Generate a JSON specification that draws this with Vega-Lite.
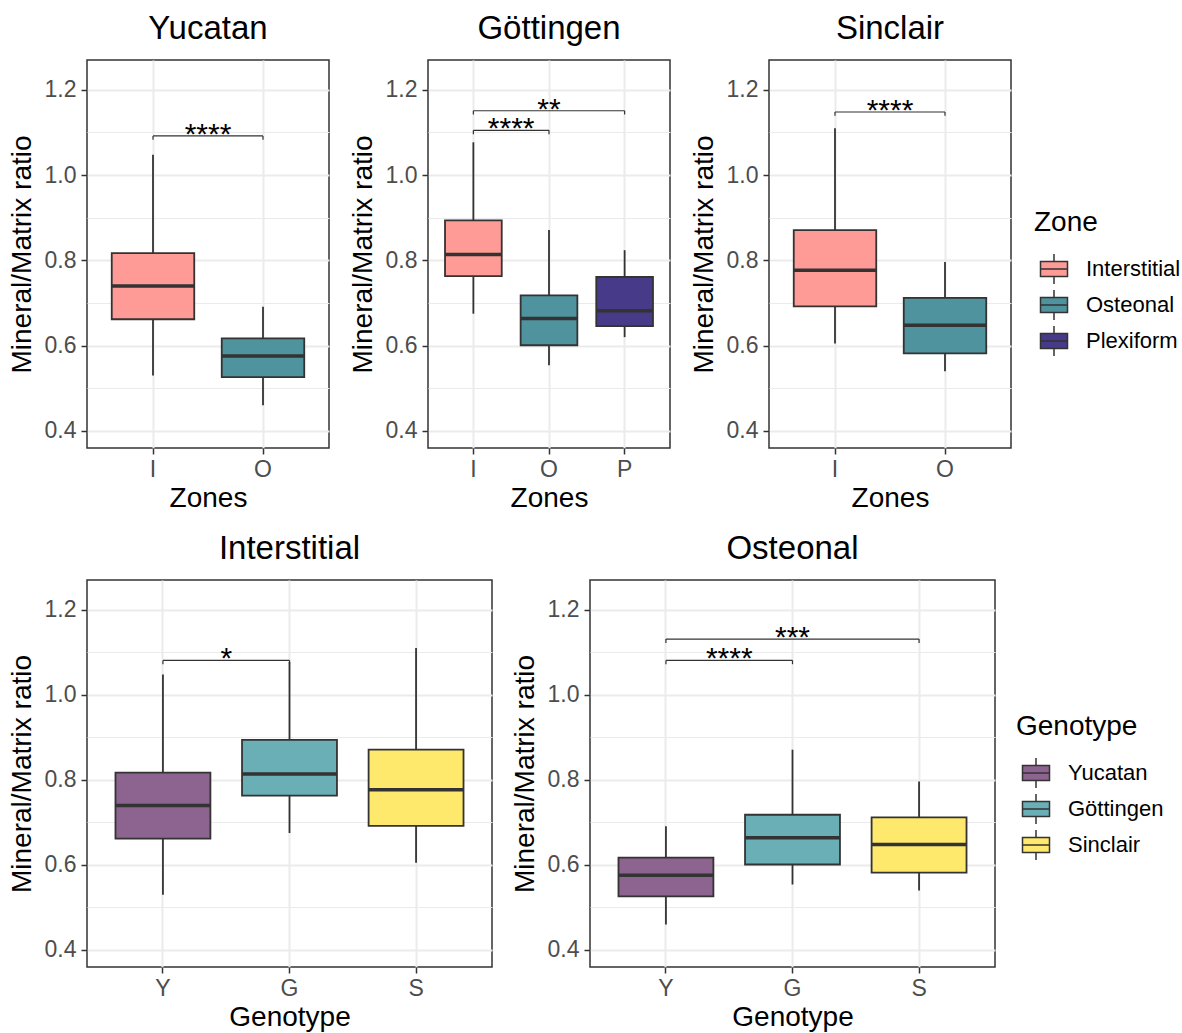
{
"$schema": "https://vega.github.io/schema/vega-lite/v6.json",
"background": "white",
"padding": {"left": 7, "top": 12, "right": 0, "bottom": 0},
"datasets": {
"boxes": [
{"breed":"Yucatan","b":"Y","zone":"Interstitial","z":"I","lower":0.530,"q1":0.662,"median":0.740,"q3":0.817,"upper":1.048},
{"breed":"Yucatan","b":"Y","zone":"Osteonal","z":"O","lower":0.460,"q1":0.526,"median":0.576,"q3":0.617,"upper":0.691},
{"breed":"Göttingen","b":"G","zone":"Interstitial","z":"I","lower":0.675,"q1":0.763,"median":0.814,"q3":0.894,"upper":1.077},
{"breed":"Göttingen","b":"G","zone":"Osteonal","z":"O","lower":0.554,"q1":0.601,"median":0.664,"q3":0.718,"upper":0.871},
{"breed":"Göttingen","b":"G","zone":"Plexiform","z":"P","lower":0.620,"q1":0.646,"median":0.682,"q3":0.761,"upper":0.824},
{"breed":"Sinclair","b":"S","zone":"Interstitial","z":"I","lower":0.605,"q1":0.692,"median":0.777,"q3":0.871,"upper":1.110},
{"breed":"Sinclair","b":"S","zone":"Osteonal","z":"O","lower":0.540,"q1":0.582,"median":0.648,"q3":0.712,"upper":0.796}
],
"brackets": [
{"panel":"Yucatan","from":"I","to":"O","mid":"","y":1.092,"tip":1.083,"label":"****"},
{"panel":"Göttingen","from":"I","to":"O","mid":"","y":1.105,"tip":1.096,"label":"****"},
{"panel":"Göttingen","from":"I","to":"P","mid":"O","y":1.151,"tip":1.142,"label":"**"},
{"panel":"Sinclair","from":"I","to":"O","mid":"","y":1.148,"tip":1.139,"label":"****"},
{"panel":"Interstitial","from":"Y","to":"G","mid":"","y":1.081,"tip":1.072,"label":"*"},
{"panel":"Osteonal","from":"Y","to":"G","mid":"","y":1.081,"tip":1.072,"label":"****"},
{"panel":"Osteonal","from":"Y","to":"S","mid":"G","y":1.131,"tip":1.122,"label":"***"}
]
},
"vconcat": [
{
"hconcat": [
{
"title": "Yucatan",
"width": 242, "height": 388,
"resolve": {"axis": {"y": "independent"}},
"layer": [
{
"data": {"name": "boxes"},
"transform": [{"filter": "datum.breed === 'Yucatan'"}],
"mark": {"type": "rule", "color": "#333333", "strokeWidth": 1.8},
"encoding": {
"x": {"field": "z", "type": "nominal", "title": "Zones", "scale": {"type": "band", "domain": ["I","O"], "paddingInner": 0.25, "paddingOuter": 0.225}, "axis": {"labelAngle": 0, "grid": true, "bandPosition": 0.5}},
"y": {"field": "lower", "type": "quantitative", "title": null, "scale": {"domain": [0.36, 1.27], "nice": false, "zero": false}, "axis": {"orient": "right", "values": [0.5,0.7,0.9,1.1], "grid": true, "gridWidth": 1, "labels": false, "ticks": false, "domain": false, "title": null}},
"y2": {"field": "upper", "title": null}
}
},
{
"layer": [
{
"data": {"name": "boxes"},
"transform": [{"filter": "datum.breed === 'Yucatan'"}],
"layer": [
{"mark": {"type": "bar", "stroke": "#333333", "strokeWidth": 1.8},
"encoding": {
"x": {"field": "z", "type": "nominal", "title": "Zones", "scale": {"type": "band", "domain": ["I","O"], "paddingInner": 0.25, "paddingOuter": 0.225}, "axis": {"labelAngle": 0, "grid": true, "bandPosition": 0.5}},
"y": {"field": "q1", "type": "quantitative", "title": "Mineral/Matrix ratio", "scale": {"domain": [0.36, 1.27], "nice": false, "zero": false}, "axis": {"orient": "left", "values": [0.4,0.6,0.8,1,1.2], "format": ".1f", "grid": true}},
"y2": {"field": "q3", "title": "Mineral/Matrix ratio"},
"fill": {"field": "zone", "type": "nominal", "title": "Zone", "scale": {"domain": ["Interstitial","Osteonal","Plexiform"], "range": ["#FF9B96","#4E939D","#473B89"]}, "legend": {"orient": "none", "legendX": 947, "legendY": 149}}
}},
{"mark": {"type": "bar", "fillOpacity": 0, "stroke": "#333333", "strokeWidth": 3.5},
"encoding": {
"x": {"field": "z", "type": "nominal", "title": "Zones", "scale": {"type": "band", "domain": ["I","O"], "paddingInner": 0.25, "paddingOuter": 0.225}, "axis": {"labelAngle": 0, "grid": true, "bandPosition": 0.5}},
"y": {"field": "median", "type": "quantitative", "title": "Mineral/Matrix ratio", "scale": {"domain": [0.36, 1.27], "nice": false, "zero": false}, "axis": {"orient": "left", "values": [0.4,0.6,0.8,1,1.2], "format": ".1f", "grid": true}},
"y2": {"field": "median", "title": "Mineral/Matrix ratio"}
}}
]
},
{
"data": {"name": "brackets"},
"transform": [{"filter": "datum.panel === 'Yucatan'"}],
"layer": [
{"mark": {"type": "rule", "color": "#333333", "strokeWidth": 1.2},
"encoding": {
"x": {"field": "from", "type": "nominal", "title": "Zones", "scale": {"type": "band", "domain": ["I","O"], "paddingInner": 0.25, "paddingOuter": 0.225}, "axis": {"labelAngle": 0, "grid": true, "bandPosition": 0.5}},
"x2": {"field": "to", "title": "Zones"},
"y": {"field": "y", "type": "quantitative", "title": "Mineral/Matrix ratio", "scale": {"domain": [0.36, 1.27], "nice": false, "zero": false}, "axis": {"orient": "left", "values": [0.4,0.6,0.8,1,1.2], "format": ".1f", "grid": true}}
}},
{"mark": {"type": "rule", "color": "#333333", "strokeWidth": 1.2},
"encoding": {
"x": {"field": "from", "type": "nominal", "title": "Zones", "scale": {"type": "band", "domain": ["I","O"], "paddingInner": 0.25, "paddingOuter": 0.225}, "axis": {"labelAngle": 0, "grid": true, "bandPosition": 0.5}},
"y": {"field": "y", "type": "quantitative", "title": "Mineral/Matrix ratio", "scale": {"domain": [0.36, 1.27], "nice": false, "zero": false}, "axis": {"orient": "left", "values": [0.4,0.6,0.8,1,1.2], "format": ".1f", "grid": true}},
"y2": {"field": "tip", "title": "Mineral/Matrix ratio"}
}},
{"mark": {"type": "rule", "color": "#333333", "strokeWidth": 1.2},
"encoding": {
"x": {"field": "to", "type": "nominal", "title": "Zones", "scale": {"type": "band", "domain": ["I","O"], "paddingInner": 0.25, "paddingOuter": 0.225}, "axis": {"labelAngle": 0, "grid": true, "bandPosition": 0.5}},
"y": {"field": "y", "type": "quantitative", "title": "Mineral/Matrix ratio", "scale": {"domain": [0.36, 1.27], "nice": false, "zero": false}, "axis": {"orient": "left", "values": [0.4,0.6,0.8,1,1.2], "format": ".1f", "grid": true}},
"y2": {"field": "tip", "title": "Mineral/Matrix ratio"}
}},
{"mark": {"type": "text", "fontSize": 30, "baseline": "alphabetic", "dx": 55, "dy": 8, "color": "black"},
"encoding": {
"x": {"field": "from", "type": "nominal", "title": "Zones", "scale": {"type": "band", "domain": ["I","O"], "paddingInner": 0.25, "paddingOuter": 0.225}, "axis": {"labelAngle": 0, "grid": true, "bandPosition": 0.5}},
"y": {"field": "y", "type": "quantitative", "title": "Mineral/Matrix ratio", "scale": {"domain": [0.36, 1.27], "nice": false, "zero": false}, "axis": {"orient": "left", "values": [0.4,0.6,0.8,1,1.2], "format": ".1f", "grid": true}},
"text": {"field": "label"}
}}
]
}
]
}
]
},
{
"title": "Göttingen",
"width": 242, "height": 388,
"resolve": {"axis": {"y": "independent"}},
"layer": [
{
"data": {"name": "boxes"},
"transform": [{"filter": "datum.breed === 'Göttingen'"}],
"mark": {"type": "rule", "color": "#333333", "strokeWidth": 1.8},
"encoding": {
"x": {"field": "z", "type": "nominal", "title": "Zones", "scale": {"type": "band", "domain": ["I","O","P"], "paddingInner": 0.25, "paddingOuter": 0.225}, "axis": {"labelAngle": 0, "grid": true, "bandPosition": 0.5}},
"y": {"field": "lower", "type": "quantitative", "title": null, "scale": {"domain": [0.36, 1.27], "nice": false, "zero": false}, "axis": {"orient": "right", "values": [0.5,0.7,0.9,1.1], "grid": true, "gridWidth": 1, "labels": false, "ticks": false, "domain": false, "title": null}},
"y2": {"field": "upper", "title": null}
}
},
{
"layer": [
{
"data": {"name": "boxes"},
"transform": [{"filter": "datum.breed === 'Göttingen'"}],
"layer": [
{"mark": {"type": "bar", "stroke": "#333333", "strokeWidth": 1.8},
"encoding": {
"x": {"field": "z", "type": "nominal", "title": "Zones", "scale": {"type": "band", "domain": ["I","O","P"], "paddingInner": 0.25, "paddingOuter": 0.225}, "axis": {"labelAngle": 0, "grid": true, "bandPosition": 0.5}},
"y": {"field": "q1", "type": "quantitative", "title": "Mineral/Matrix ratio", "scale": {"domain": [0.36, 1.27], "nice": false, "zero": false}, "axis": {"orient": "left", "values": [0.4,0.6,0.8,1,1.2], "format": ".1f", "grid": true}},
"y2": {"field": "q3", "title": "Mineral/Matrix ratio"},
"fill": {"field": "zone", "type": "nominal", "title": "Zone", "scale": {"domain": ["Interstitial","Osteonal","Plexiform"], "range": ["#FF9B96","#4E939D","#473B89"]}, "legend": {"orient": "none", "legendX": 947, "legendY": 149}}
}},
{"mark": {"type": "bar", "fillOpacity": 0, "stroke": "#333333", "strokeWidth": 3.5},
"encoding": {
"x": {"field": "z", "type": "nominal", "title": "Zones", "scale": {"type": "band", "domain": ["I","O","P"], "paddingInner": 0.25, "paddingOuter": 0.225}, "axis": {"labelAngle": 0, "grid": true, "bandPosition": 0.5}},
"y": {"field": "median", "type": "quantitative", "title": "Mineral/Matrix ratio", "scale": {"domain": [0.36, 1.27], "nice": false, "zero": false}, "axis": {"orient": "left", "values": [0.4,0.6,0.8,1,1.2], "format": ".1f", "grid": true}},
"y2": {"field": "median", "title": "Mineral/Matrix ratio"}
}}
]
},
{
"data": {"name": "brackets"},
"transform": [{"filter": "datum.panel === 'Göttingen'"}],
"layer": [
{"mark": {"type": "rule", "color": "#333333", "strokeWidth": 1.2},
"encoding": {
"x": {"field": "from", "type": "nominal", "title": "Zones", "scale": {"type": "band", "domain": ["I","O","P"], "paddingInner": 0.25, "paddingOuter": 0.225}, "axis": {"labelAngle": 0, "grid": true, "bandPosition": 0.5}},
"x2": {"field": "to", "title": "Zones"},
"y": {"field": "y", "type": "quantitative", "title": "Mineral/Matrix ratio", "scale": {"domain": [0.36, 1.27], "nice": false, "zero": false}, "axis": {"orient": "left", "values": [0.4,0.6,0.8,1,1.2], "format": ".1f", "grid": true}}
}},
{"mark": {"type": "rule", "color": "#333333", "strokeWidth": 1.2},
"encoding": {
"x": {"field": "from", "type": "nominal", "title": "Zones", "scale": {"type": "band", "domain": ["I","O","P"], "paddingInner": 0.25, "paddingOuter": 0.225}, "axis": {"labelAngle": 0, "grid": true, "bandPosition": 0.5}},
"y": {"field": "y", "type": "quantitative", "title": "Mineral/Matrix ratio", "scale": {"domain": [0.36, 1.27], "nice": false, "zero": false}, "axis": {"orient": "left", "values": [0.4,0.6,0.8,1,1.2], "format": ".1f", "grid": true}},
"y2": {"field": "tip", "title": "Mineral/Matrix ratio"}
}},
{"mark": {"type": "rule", "color": "#333333", "strokeWidth": 1.2},
"encoding": {
"x": {"field": "to", "type": "nominal", "title": "Zones", "scale": {"type": "band", "domain": ["I","O","P"], "paddingInner": 0.25, "paddingOuter": 0.225}, "axis": {"labelAngle": 0, "grid": true, "bandPosition": 0.5}},
"y": {"field": "y", "type": "quantitative", "title": "Mineral/Matrix ratio", "scale": {"domain": [0.36, 1.27], "nice": false, "zero": false}, "axis": {"orient": "left", "values": [0.4,0.6,0.8,1,1.2], "format": ".1f", "grid": true}},
"y2": {"field": "tip", "title": "Mineral/Matrix ratio"}
}},
{"transform": [{"filter": "datum.to === 'O'"}],
"mark": {"type": "text", "fontSize": 30, "baseline": "alphabetic", "dx": 37.8, "dy": 8, "color": "black"},
"encoding": {
"x": {"field": "from", "type": "nominal", "title": "Zones", "scale": {"type": "band", "domain": ["I","O","P"], "paddingInner": 0.25, "paddingOuter": 0.225}, "axis": {"labelAngle": 0, "grid": true, "bandPosition": 0.5}},
"y": {"field": "y", "type": "quantitative", "title": "Mineral/Matrix ratio", "scale": {"domain": [0.36, 1.27], "nice": false, "zero": false}, "axis": {"orient": "left", "values": [0.4,0.6,0.8,1,1.2], "format": ".1f", "grid": true}},
"text": {"field": "label"}
}},
{"transform": [{"filter": "datum.to === 'P'"}],
"mark": {"type": "text", "fontSize": 30, "baseline": "alphabetic", "dy": 8, "color": "black"},
"encoding": {
"x": {"field": "mid", "type": "nominal", "title": "Zones", "scale": {"type": "band", "domain": ["I","O","P"], "paddingInner": 0.25, "paddingOuter": 0.225}, "axis": {"labelAngle": 0, "grid": true, "bandPosition": 0.5}},
"y": {"field": "y", "type": "quantitative", "title": "Mineral/Matrix ratio", "scale": {"domain": [0.36, 1.27], "nice": false, "zero": false}, "axis": {"orient": "left", "values": [0.4,0.6,0.8,1,1.2], "format": ".1f", "grid": true}},
"text": {"field": "label"}
}}
]
}
]
}
]
},
{
"title": "Sinclair",
"width": 242, "height": 388,
"resolve": {"axis": {"y": "independent"}},
"layer": [
{
"data": {"name": "boxes"},
"transform": [{"filter": "datum.breed === 'Sinclair'"}],
"mark": {"type": "rule", "color": "#333333", "strokeWidth": 1.8},
"encoding": {
"x": {"field": "z", "type": "nominal", "title": "Zones", "scale": {"type": "band", "domain": ["I","O"], "paddingInner": 0.25, "paddingOuter": 0.225}, "axis": {"labelAngle": 0, "grid": true, "bandPosition": 0.5}},
"y": {"field": "lower", "type": "quantitative", "title": null, "scale": {"domain": [0.36, 1.27], "nice": false, "zero": false}, "axis": {"orient": "right", "values": [0.5,0.7,0.9,1.1], "grid": true, "gridWidth": 1, "labels": false, "ticks": false, "domain": false, "title": null}},
"y2": {"field": "upper", "title": null}
}
},
{
"layer": [
{
"data": {"name": "boxes"},
"transform": [{"filter": "datum.breed === 'Sinclair'"}],
"layer": [
{"mark": {"type": "bar", "stroke": "#333333", "strokeWidth": 1.8},
"encoding": {
"x": {"field": "z", "type": "nominal", "title": "Zones", "scale": {"type": "band", "domain": ["I","O"], "paddingInner": 0.25, "paddingOuter": 0.225}, "axis": {"labelAngle": 0, "grid": true, "bandPosition": 0.5}},
"y": {"field": "q1", "type": "quantitative", "title": "Mineral/Matrix ratio", "scale": {"domain": [0.36, 1.27], "nice": false, "zero": false}, "axis": {"orient": "left", "values": [0.4,0.6,0.8,1,1.2], "format": ".1f", "grid": true}},
"y2": {"field": "q3", "title": "Mineral/Matrix ratio"},
"fill": {"field": "zone", "type": "nominal", "title": "Zone", "scale": {"domain": ["Interstitial","Osteonal","Plexiform"], "range": ["#FF9B96","#4E939D","#473B89"]}, "legend": {"orient": "none", "legendX": 947, "legendY": 149}}
}},
{"mark": {"type": "bar", "fillOpacity": 0, "stroke": "#333333", "strokeWidth": 3.5},
"encoding": {
"x": {"field": "z", "type": "nominal", "title": "Zones", "scale": {"type": "band", "domain": ["I","O"], "paddingInner": 0.25, "paddingOuter": 0.225}, "axis": {"labelAngle": 0, "grid": true, "bandPosition": 0.5}},
"y": {"field": "median", "type": "quantitative", "title": "Mineral/Matrix ratio", "scale": {"domain": [0.36, 1.27], "nice": false, "zero": false}, "axis": {"orient": "left", "values": [0.4,0.6,0.8,1,1.2], "format": ".1f", "grid": true}},
"y2": {"field": "median", "title": "Mineral/Matrix ratio"}
}}
]
},
{
"data": {"name": "brackets"},
"transform": [{"filter": "datum.panel === 'Sinclair'"}],
"layer": [
{"mark": {"type": "rule", "color": "#333333", "strokeWidth": 1.2},
"encoding": {
"x": {"field": "from", "type": "nominal", "title": "Zones", "scale": {"type": "band", "domain": ["I","O"], "paddingInner": 0.25, "paddingOuter": 0.225}, "axis": {"labelAngle": 0, "grid": true, "bandPosition": 0.5}},
"x2": {"field": "to", "title": "Zones"},
"y": {"field": "y", "type": "quantitative", "title": "Mineral/Matrix ratio", "scale": {"domain": [0.36, 1.27], "nice": false, "zero": false}, "axis": {"orient": "left", "values": [0.4,0.6,0.8,1,1.2], "format": ".1f", "grid": true}}
}},
{"mark": {"type": "rule", "color": "#333333", "strokeWidth": 1.2},
"encoding": {
"x": {"field": "from", "type": "nominal", "title": "Zones", "scale": {"type": "band", "domain": ["I","O"], "paddingInner": 0.25, "paddingOuter": 0.225}, "axis": {"labelAngle": 0, "grid": true, "bandPosition": 0.5}},
"y": {"field": "y", "type": "quantitative", "title": "Mineral/Matrix ratio", "scale": {"domain": [0.36, 1.27], "nice": false, "zero": false}, "axis": {"orient": "left", "values": [0.4,0.6,0.8,1,1.2], "format": ".1f", "grid": true}},
"y2": {"field": "tip", "title": "Mineral/Matrix ratio"}
}},
{"mark": {"type": "rule", "color": "#333333", "strokeWidth": 1.2},
"encoding": {
"x": {"field": "to", "type": "nominal", "title": "Zones", "scale": {"type": "band", "domain": ["I","O"], "paddingInner": 0.25, "paddingOuter": 0.225}, "axis": {"labelAngle": 0, "grid": true, "bandPosition": 0.5}},
"y": {"field": "y", "type": "quantitative", "title": "Mineral/Matrix ratio", "scale": {"domain": [0.36, 1.27], "nice": false, "zero": false}, "axis": {"orient": "left", "values": [0.4,0.6,0.8,1,1.2], "format": ".1f", "grid": true}},
"y2": {"field": "tip", "title": "Mineral/Matrix ratio"}
}},
{"mark": {"type": "text", "fontSize": 30, "baseline": "alphabetic", "dx": 55, "dy": 8, "color": "black"},
"encoding": {
"x": {"field": "from", "type": "nominal", "title": "Zones", "scale": {"type": "band", "domain": ["I","O"], "paddingInner": 0.25, "paddingOuter": 0.225}, "axis": {"labelAngle": 0, "grid": true, "bandPosition": 0.5}},
"y": {"field": "y", "type": "quantitative", "title": "Mineral/Matrix ratio", "scale": {"domain": [0.36, 1.27], "nice": false, "zero": false}, "axis": {"orient": "left", "values": [0.4,0.6,0.8,1,1.2], "format": ".1f", "grid": true}},
"text": {"field": "label"}
}}
]
}
]
}
]
}
],
"spacing": 99,
"bounds": "flush",
"resolve": {"scale": {"x": "independent", "y": "independent", "fill": "shared"}, "legend": {"fill": "shared"}}
},
{
"hconcat": [
{
"title": "Interstitial",
"width": 405, "height": 387,
"resolve": {"axis": {"y": "independent"}},
"layer": [
{
"data": {"name": "boxes"},
"transform": [{"filter": "datum.zone === 'Interstitial'"}],
"mark": {"type": "rule", "color": "#333333", "strokeWidth": 1.8},
"encoding": {
"x": {"field": "b", "type": "nominal", "title": "Genotype", "scale": {"type": "band", "domain": ["Y","G","S"], "paddingInner": 0.25, "paddingOuter": 0.225}, "axis": {"labelAngle": 0, "grid": true, "bandPosition": 0.5}},
"y": {"field": "lower", "type": "quantitative", "title": null, "scale": {"domain": [0.36, 1.27], "nice": false, "zero": false}, "axis": {"orient": "right", "values": [0.5,0.7,0.9,1.1], "grid": true, "gridWidth": 1, "labels": false, "ticks": false, "domain": false, "title": null}},
"y2": {"field": "upper", "title": null}
}
},
{
"layer": [
{
"data": {"name": "boxes"},
"transform": [{"filter": "datum.zone === 'Interstitial'"}],
"layer": [
{"mark": {"type": "bar", "stroke": "#333333", "strokeWidth": 1.8},
"encoding": {
"x": {"field": "b", "type": "nominal", "title": "Genotype", "scale": {"type": "band", "domain": ["Y","G","S"], "paddingInner": 0.25, "paddingOuter": 0.225}, "axis": {"labelAngle": 0, "grid": true, "bandPosition": 0.5}},
"y": {"field": "q1", "type": "quantitative", "title": "Mineral/Matrix ratio", "scale": {"domain": [0.36, 1.27], "nice": false, "zero": false}, "axis": {"orient": "left", "values": [0.4,0.6,0.8,1,1.2], "format": ".1f", "grid": true}},
"y2": {"field": "q3", "title": "Mineral/Matrix ratio"},
"fill": {"field": "breed", "type": "nominal", "title": "Genotype", "scale": {"domain": ["Yucatan","Göttingen","Sinclair"], "range": ["#8D6390","#6AAFB5","#FFE96C"]}, "legend": {"orient": "none", "legendX": 929, "legendY": 133}}
}},
{"mark": {"type": "bar", "fillOpacity": 0, "stroke": "#333333", "strokeWidth": 3.5},
"encoding": {
"x": {"field": "b", "type": "nominal", "title": "Genotype", "scale": {"type": "band", "domain": ["Y","G","S"], "paddingInner": 0.25, "paddingOuter": 0.225}, "axis": {"labelAngle": 0, "grid": true, "bandPosition": 0.5}},
"y": {"field": "median", "type": "quantitative", "title": "Mineral/Matrix ratio", "scale": {"domain": [0.36, 1.27], "nice": false, "zero": false}, "axis": {"orient": "left", "values": [0.4,0.6,0.8,1,1.2], "format": ".1f", "grid": true}},
"y2": {"field": "median", "title": "Mineral/Matrix ratio"}
}}
]
},
{
"data": {"name": "brackets"},
"transform": [{"filter": "datum.panel === 'Interstitial'"}],
"layer": [
{"mark": {"type": "rule", "color": "#333333", "strokeWidth": 1.2},
"encoding": {
"x": {"field": "from", "type": "nominal", "title": "Genotype", "scale": {"type": "band", "domain": ["Y","G","S"], "paddingInner": 0.25, "paddingOuter": 0.225}, "axis": {"labelAngle": 0, "grid": true, "bandPosition": 0.5}},
"x2": {"field": "to", "title": "Genotype"},
"y": {"field": "y", "type": "quantitative", "title": "Mineral/Matrix ratio", "scale": {"domain": [0.36, 1.27], "nice": false, "zero": false}, "axis": {"orient": "left", "values": [0.4,0.6,0.8,1,1.2], "format": ".1f", "grid": true}}
}},
{"mark": {"type": "rule", "color": "#333333", "strokeWidth": 1.2},
"encoding": {
"x": {"field": "from", "type": "nominal", "title": "Genotype", "scale": {"type": "band", "domain": ["Y","G","S"], "paddingInner": 0.25, "paddingOuter": 0.225}, "axis": {"labelAngle": 0, "grid": true, "bandPosition": 0.5}},
"y": {"field": "y", "type": "quantitative", "title": "Mineral/Matrix ratio", "scale": {"domain": [0.36, 1.27], "nice": false, "zero": false}, "axis": {"orient": "left", "values": [0.4,0.6,0.8,1,1.2], "format": ".1f", "grid": true}},
"y2": {"field": "tip", "title": "Mineral/Matrix ratio"}
}},
{"mark": {"type": "rule", "color": "#333333", "strokeWidth": 1.2},
"encoding": {
"x": {"field": "to", "type": "nominal", "title": "Genotype", "scale": {"type": "band", "domain": ["Y","G","S"], "paddingInner": 0.25, "paddingOuter": 0.225}, "axis": {"labelAngle": 0, "grid": true, "bandPosition": 0.5}},
"y": {"field": "y", "type": "quantitative", "title": "Mineral/Matrix ratio", "scale": {"domain": [0.36, 1.27], "nice": false, "zero": false}, "axis": {"orient": "left", "values": [0.4,0.6,0.8,1,1.2], "format": ".1f", "grid": true}},
"y2": {"field": "tip", "title": "Mineral/Matrix ratio"}
}},
{"mark": {"type": "text", "fontSize": 30, "baseline": "alphabetic", "dx": 63.3, "dy": 8, "color": "black"},
"encoding": {
"x": {"field": "from", "type": "nominal", "title": "Genotype", "scale": {"type": "band", "domain": ["Y","G","S"], "paddingInner": 0.25, "paddingOuter": 0.225}, "axis": {"labelAngle": 0, "grid": true, "bandPosition": 0.5}},
"y": {"field": "y", "type": "quantitative", "title": "Mineral/Matrix ratio", "scale": {"domain": [0.36, 1.27], "nice": false, "zero": false}, "axis": {"orient": "left", "values": [0.4,0.6,0.8,1,1.2], "format": ".1f", "grid": true}},
"text": {"field": "label"}
}}
]
}
]
}
]
},
{
"title": "Osteonal",
"width": 405, "height": 387,
"resolve": {"axis": {"y": "independent"}},
"layer": [
{
"data": {"name": "boxes"},
"transform": [{"filter": "datum.zone === 'Osteonal'"}],
"mark": {"type": "rule", "color": "#333333", "strokeWidth": 1.8},
"encoding": {
"x": {"field": "b", "type": "nominal", "title": "Genotype", "scale": {"type": "band", "domain": ["Y","G","S"], "paddingInner": 0.25, "paddingOuter": 0.225}, "axis": {"labelAngle": 0, "grid": true, "bandPosition": 0.5}},
"y": {"field": "lower", "type": "quantitative", "title": null, "scale": {"domain": [0.36, 1.27], "nice": false, "zero": false}, "axis": {"orient": "right", "values": [0.5,0.7,0.9,1.1], "grid": true, "gridWidth": 1, "labels": false, "ticks": false, "domain": false, "title": null}},
"y2": {"field": "upper", "title": null}
}
},
{
"layer": [
{
"data": {"name": "boxes"},
"transform": [{"filter": "datum.zone === 'Osteonal'"}],
"layer": [
{"mark": {"type": "bar", "stroke": "#333333", "strokeWidth": 1.8},
"encoding": {
"x": {"field": "b", "type": "nominal", "title": "Genotype", "scale": {"type": "band", "domain": ["Y","G","S"], "paddingInner": 0.25, "paddingOuter": 0.225}, "axis": {"labelAngle": 0, "grid": true, "bandPosition": 0.5}},
"y": {"field": "q1", "type": "quantitative", "title": "Mineral/Matrix ratio", "scale": {"domain": [0.36, 1.27], "nice": false, "zero": false}, "axis": {"orient": "left", "values": [0.4,0.6,0.8,1,1.2], "format": ".1f", "grid": true}},
"y2": {"field": "q3", "title": "Mineral/Matrix ratio"},
"fill": {"field": "breed", "type": "nominal", "title": "Genotype", "scale": {"domain": ["Yucatan","Göttingen","Sinclair"], "range": ["#8D6390","#6AAFB5","#FFE96C"]}, "legend": {"orient": "none", "legendX": 929, "legendY": 133}}
}},
{"mark": {"type": "bar", "fillOpacity": 0, "stroke": "#333333", "strokeWidth": 3.5},
"encoding": {
"x": {"field": "b", "type": "nominal", "title": "Genotype", "scale": {"type": "band", "domain": ["Y","G","S"], "paddingInner": 0.25, "paddingOuter": 0.225}, "axis": {"labelAngle": 0, "grid": true, "bandPosition": 0.5}},
"y": {"field": "median", "type": "quantitative", "title": "Mineral/Matrix ratio", "scale": {"domain": [0.36, 1.27], "nice": false, "zero": false}, "axis": {"orient": "left", "values": [0.4,0.6,0.8,1,1.2], "format": ".1f", "grid": true}},
"y2": {"field": "median", "title": "Mineral/Matrix ratio"}
}}
]
},
{
"data": {"name": "brackets"},
"transform": [{"filter": "datum.panel === 'Osteonal'"}],
"layer": [
{"mark": {"type": "rule", "color": "#333333", "strokeWidth": 1.2},
"encoding": {
"x": {"field": "from", "type": "nominal", "title": "Genotype", "scale": {"type": "band", "domain": ["Y","G","S"], "paddingInner": 0.25, "paddingOuter": 0.225}, "axis": {"labelAngle": 0, "grid": true, "bandPosition": 0.5}},
"x2": {"field": "to", "title": "Genotype"},
"y": {"field": "y", "type": "quantitative", "title": "Mineral/Matrix ratio", "scale": {"domain": [0.36, 1.27], "nice": false, "zero": false}, "axis": {"orient": "left", "values": [0.4,0.6,0.8,1,1.2], "format": ".1f", "grid": true}}
}},
{"mark": {"type": "rule", "color": "#333333", "strokeWidth": 1.2},
"encoding": {
"x": {"field": "from", "type": "nominal", "title": "Genotype", "scale": {"type": "band", "domain": ["Y","G","S"], "paddingInner": 0.25, "paddingOuter": 0.225}, "axis": {"labelAngle": 0, "grid": true, "bandPosition": 0.5}},
"y": {"field": "y", "type": "quantitative", "title": "Mineral/Matrix ratio", "scale": {"domain": [0.36, 1.27], "nice": false, "zero": false}, "axis": {"orient": "left", "values": [0.4,0.6,0.8,1,1.2], "format": ".1f", "grid": true}},
"y2": {"field": "tip", "title": "Mineral/Matrix ratio"}
}},
{"mark": {"type": "rule", "color": "#333333", "strokeWidth": 1.2},
"encoding": {
"x": {"field": "to", "type": "nominal", "title": "Genotype", "scale": {"type": "band", "domain": ["Y","G","S"], "paddingInner": 0.25, "paddingOuter": 0.225}, "axis": {"labelAngle": 0, "grid": true, "bandPosition": 0.5}},
"y": {"field": "y", "type": "quantitative", "title": "Mineral/Matrix ratio", "scale": {"domain": [0.36, 1.27], "nice": false, "zero": false}, "axis": {"orient": "left", "values": [0.4,0.6,0.8,1,1.2], "format": ".1f", "grid": true}},
"y2": {"field": "tip", "title": "Mineral/Matrix ratio"}
}},
{"transform": [{"filter": "datum.to === 'G'"}],
"mark": {"type": "text", "fontSize": 30, "baseline": "alphabetic", "dx": 63.3, "dy": 8, "color": "black"},
"encoding": {
"x": {"field": "from", "type": "nominal", "title": "Genotype", "scale": {"type": "band", "domain": ["Y","G","S"], "paddingInner": 0.25, "paddingOuter": 0.225}, "axis": {"labelAngle": 0, "grid": true, "bandPosition": 0.5}},
"y": {"field": "y", "type": "quantitative", "title": "Mineral/Matrix ratio", "scale": {"domain": [0.36, 1.27], "nice": false, "zero": false}, "axis": {"orient": "left", "values": [0.4,0.6,0.8,1,1.2], "format": ".1f", "grid": true}},
"text": {"field": "label"}
}},
{"transform": [{"filter": "datum.to === 'S'"}],
"mark": {"type": "text", "fontSize": 30, "baseline": "alphabetic", "dy": 8, "color": "black"},
"encoding": {
"x": {"field": "mid", "type": "nominal", "title": "Genotype", "scale": {"type": "band", "domain": ["Y","G","S"], "paddingInner": 0.25, "paddingOuter": 0.225}, "axis": {"labelAngle": 0, "grid": true, "bandPosition": 0.5}},
"y": {"field": "y", "type": "quantitative", "title": "Mineral/Matrix ratio", "scale": {"domain": [0.36, 1.27], "nice": false, "zero": false}, "axis": {"orient": "left", "values": [0.4,0.6,0.8,1,1.2], "format": ".1f", "grid": true}},
"text": {"field": "label"}
}}
]
}
]
}
]
}
],
"spacing": 98,
"bounds": "flush",
"resolve": {"scale": {"x": "independent", "y": "independent", "fill": "shared"}, "legend": {"fill": "shared"}}
}
],
"spacing": 19,
"resolve": {"scale": {"x": "independent", "y": "independent", "fill": "independent"}, "legend": {"fill": "independent"}},
"config": {
"font": "Liberation Sans",
"view": {"stroke": "#333333", "strokeWidth": 1.5},
"axis": {"domain": false, "tickColor": "#333333", "tickWidth": 1.5, "tickSize": 6, "labelColor": "#4D4D4D", "labelFontSize": 23, "titleFontSize": 28, "titleFontWeight": "normal", "titleColor": "black", "gridColor": "#EBEBEB", "gridWidth": 2},
"axisX": {"labelPadding": 4, "titlePadding": 3},
"axisY": {"labelPadding": 5, "titlePadding": 8},
"title": {"fontSize": 33, "fontWeight": "normal", "color": "black", "anchor": "middle", "baseline": "alphabetic", "offset": 14},
"legend": {"titleFontSize": 28, "titleFontWeight": "normal", "titleColor": "black", "labelFontSize": 22, "labelColor": "black", "symbolType": "M-0.9,-0.5H0.9V0.5H-0.9Z M-0.9,0H0.9 M0,-0.5V-1 M0,0.5V1", "symbolSize": 900, "symbolStrokeColor": "#333333", "symbolStrokeWidth": 1.5, "symbolOpacity": 1, "rowPadding": 0, "titlePadding": 16, "labelOffset": 16, "symbolOffset": 4}
}
}
